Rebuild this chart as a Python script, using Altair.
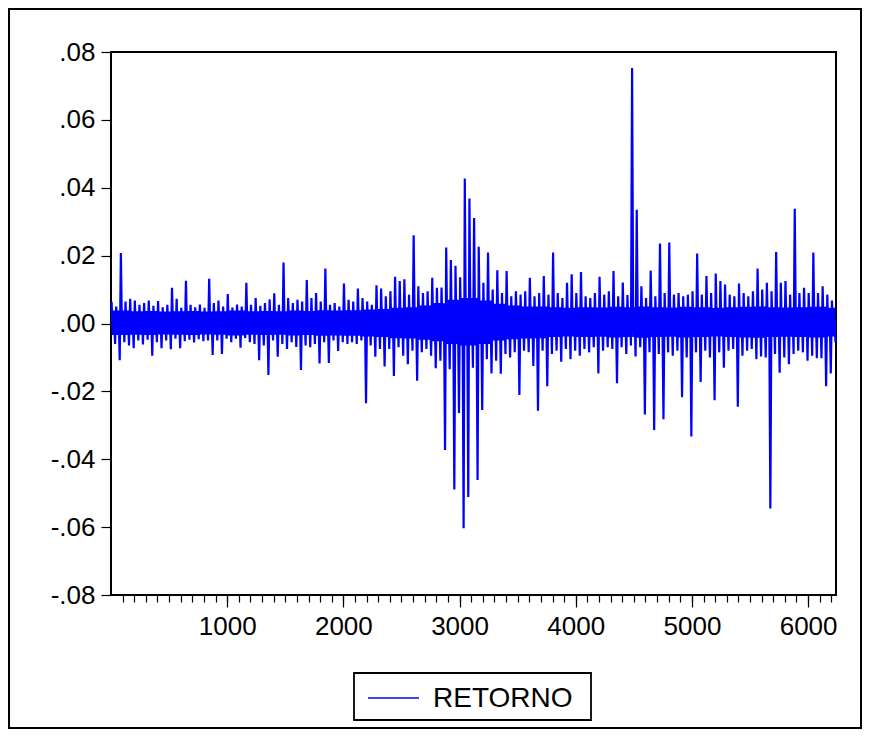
import altair as alt
import pandas as pd

BIN = 40
hi = [6.4, 5.0, 20.8, 6.5, 7.3, 6.8, 5.5, 6.0, 6.8, 5.2,
      6.6, 4.8, 5.5, 10.5, 7.3, 4.6, 12.6, 5.5, 4.8, 5.6,
      4.6, 13.2, 6.0, 6.8, 5.0, 8.7, 4.7, 5.6, 5.0, 12.0,
      5.5, 7.5, 5.2, 6.0, 7.1, 8.9, 5.5, 18.0, 7.5, 6.0,
      7.0, 6.5, 12.8, 7.5, 9.0, 6.5, 16.2, 5.5, 6.0, 5.0,
      11.8, 7.0, 6.5, 10.3, 7.5, 6.5, 5.5, 11.3, 10.3, 8.0,
      9.5, 13.8, 12.5, 13.0, 8.5, 26.0, 11.0, 9.0, 9.5, 13.5,
      10.5, 10.6, 22.4, 18.7, 17.0, 13.6, 42.7, 36.8, 31.1, 22.6,
      12.0, 20.9, 10.0, 15.7, 9.0, 15.5, 8.0, 9.5, 8.5, 9.5,
      13.5, 8.0, 9.0, 14.0, 8.5, 20.9, 9.0, 7.5, 12.0, 14.5,
      9.0, 15.2, 8.0, 7.5, 9.0, 13.8, 8.5, 9.5, 15.5, 8.0,
      12.1, 8.4, 75.3, 33.5, 11.0, 7.5, 15.6, 8.0, 23.6, 9.0,
      23.9, 8.5, 9.0, 8.0, 8.5, 9.5, 20.6, 8.5, 14.0, 9.0,
      14.7, 12.5, 11.5, 8.5, 8.0, 11.8, 9.0, 8.0, 9.5, 16.2,
      10.0, 12.0, 9.5, 21.1, 12.0, 12.5, 8.5, 33.8, 9.0, 10.5,
      9.0, 20.9, 9.0, 11.0, 8.5, 6.8]
lo = [-6.0, -10.8, -5.5, -6.5, -7.3, -5.0, -6.2, -4.8, -9.5, -5.5,
      -7.3, -5.0, -7.6, -4.5, -7.3, -5.2, -4.8, -5.6, -4.6, -5.2,
      -5.0, -9.3, -5.0, -9.0, -4.5, -5.5, -4.5, -7.1, -4.3, -5.5,
      -6.0, -10.8, -6.5, -15.2, -5.0, -9.8, -6.0, -7.5, -5.5, -6.9,
      -13.7, -6.5, -7.0, -6.0, -11.8, -5.5, -11.6, -5.0, -8.1, -5.5,
      -6.0, -5.5, -6.0, -5.0, -23.5, -6.5, -9.8, -7.5, -12.7, -7.5,
      -15.5, -7.0, -9.5, -12.0, -8.0, -16.9, -8.5, -7.5, -9.5, -13.2,
      -11.0, -37.3, -13.5, -48.9, -26.4, -60.3, -51.1, -13.0, -46.1, -25.5,
      -10.5, -14.7, -11.0, -14.8, -9.0, -10.0, -8.5, -21.1, -8.0, -8.5,
      -12.5, -25.7, -8.0, -18.5, -9.0, -8.0, -11.3, -7.5, -10.5, -8.0,
      -9.5, -7.5, -8.5, -7.0, -14.7, -8.0, -7.0, -7.5, -17.6, -7.0,
      -9.0, -6.5, -9.7, -7.0, -26.8, -8.5, -31.4, -9.0, -28.2, -8.5,
      -9.5, -8.0, -21.7, -10.0, -33.3, -8.5, -17.2, -8.0, -10.0, -22.6,
      -8.5, -13.0, -8.0, -7.5, -24.5, -9.5, -8.0, -7.5, -10.5, -9.7,
      -10.0, -54.5, -9.0, -14.5, -10.0, -12.0, -9.0, -8.0, -8.5, -11.0,
      -9.5, -10.2, -10.2, -18.5, -14.7, -5.5]

# Dense core of the band (solid blue), per segment of 125 observations, in thousandths
SEG = 125
core_hi = [3.8, 3.6, 3.7, 3.5, 3.6, 3.7, 3.5, 3.6, 3.8, 3.6,
           3.7, 3.6, 3.8, 3.7, 3.9, 3.8, 3.9, 4.1, 4.3, 4.6,
           4.8, 5.3, 6.0, 7.0, 7.5, 6.8, 5.8, 5.3, 5.0, 5.0,
           4.8, 4.6, 4.8, 4.7, 4.9, 4.8, 5.0, 4.8, 4.7, 4.9,
           4.8, 4.6, 4.8, 4.9, 5.0, 4.8, 4.7, 4.8, 4.9, 4.6]
core_lo = [-3.4, -3.3, -3.4, -3.2, -3.3, -3.4, -3.2, -3.3, -3.5, -3.3,
           -3.4, -3.3, -3.5, -3.4, -3.6, -3.5, -3.6, -3.8, -4.0, -4.3,
           -4.4, -4.8, -5.2, -6.0, -6.5, -6.0, -5.0, -4.6, -4.4, -4.3,
           -4.0, -3.8, -4.0, -3.9, -4.1, -4.0, -4.2, -4.0, -3.9, -4.1,
           -4.0, -3.8, -4.0, -4.1, -4.2, -4.0, -3.9, -4.0, -4.1, -3.8]

x_major = [1000, 2000, 3000, 4000, 5000, 6000]
x_minor = list(range(100, 6240, 100))
y_ticks = [-0.08, -0.06, -0.04, -0.02, 0.0, 0.02, 0.04, 0.06, 0.08]
series_name = "RETORNO"

obs, ret = [], []
for k, (h, l) in enumerate(zip(hi, lo)):
    s = (BIN * k) // SEG
    obs += [BIN * k + 5, BIN * k + 15, BIN * k + 25, BIN * k + 35]
    ret += [h / 1000.0, core_lo[s] / 1000.0, core_hi[s] / 1000.0, l / 1000.0]
df = pd.DataFrame({"obs": obs, "ret": ret})

W, H = 725, 543
FONT = "Liberation Sans"
xscale = alt.Scale(domain=[0, 6240], nice=False, zero=False)
yscale = alt.Scale(domain=[-0.08, 0.08], nice=False, zero=False)

line = alt.Chart(df).mark_line(color="#0000FF", strokeWidth=2.2).encode(
    x=alt.X("obs:Q", scale=xscale,
            axis=alt.Axis(values=x_major, orient="bottom", title=None, grid=False,
                          domain=False, tickSize=12, tickWidth=1.2, tickColor="black",
                          labelFontSize=26, labelFont=FONT, labelColor="black",
                          labelPadding=6, format="d")),
    y=alt.Y("ret:Q", scale=yscale,
            axis=alt.Axis(values=y_ticks, title=None, grid=False, domain=False,
                          tickSize=10, tickWidth=1.2, tickColor="black",
                          labelFontSize=26, labelFont=FONT, labelColor="black",
                          labelPadding=6,
                          labelExpr="replace(replace(format(datum.value, '.2f'), '0.', '.'), '\u2212', '-')")),
)

minor = alt.Chart(df).mark_point(opacity=0).encode(
    x=alt.X("obs:Q", scale=xscale,
            axis=alt.Axis(values=x_minor, orient="bottom", title=None, grid=False,
                          domain=False, labels=False, tickSize=7, tickWidth=1.2,
                          tickColor="black")),
    y=alt.value(0),
)

one = alt.Data(values=[{}])
legend_box = alt.Chart(one).mark_rect(fill="white", stroke="black", strokeWidth=1.8).encode(
    x=alt.value(243), x2=alt.value(480), y=alt.value(621), y2=alt.value(668))
legend_line = alt.Chart(one).mark_rule(color="#0000FF", strokeWidth=1.3).encode(
    x=alt.value(257), x2=alt.value(308), y=alt.value(646))
legend_text = alt.Chart(one).mark_text(text=series_name, align="left", baseline="alphabetic",
                                        fontSize=28, font=FONT, color="black").encode(
    x=alt.value(322), y=alt.value(655))
outer = alt.Chart(one).mark_rect(fill="transparent", stroke="black", strokeWidth=2).encode(
    x=alt.value(-102), x2=alt.value(750), y=alt.value(-43), y2=alt.value(676))

chart = alt.layer(line, minor, legend_box, legend_line, legend_text, outer).resolve_axis(
    x="independent"
).properties(
    width=W, height=H,
    padding={"left": 103, "top": 44, "right": 26, "bottom": 134},
    autosize=alt.AutoSizeParams(type="none"),
).configure(background="white").configure_view(stroke="black", strokeWidth=2)

chart.save("out.html", embed_options={"renderer": "svg", "actions": False})
